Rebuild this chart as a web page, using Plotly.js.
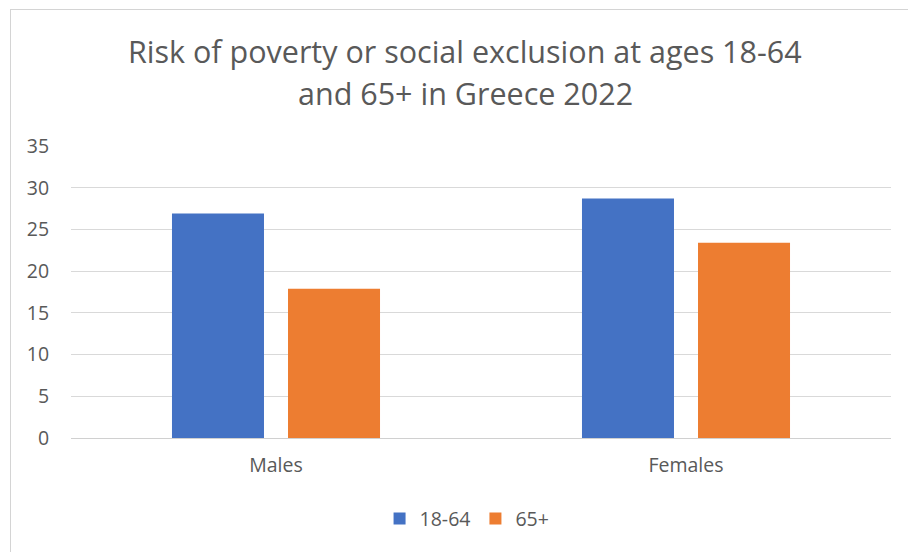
<!DOCTYPE html>
<html>
<head>
<meta charset="utf-8">
<script src="https://cdn.plot.ly/plotly-3.0.1.min.js"></script>
<style>
  html, body { margin: 0; padding: 0; background: #ffffff; }
  #wrap { position: relative; width: 908px; height: 552px; overflow: hidden; }
  #chart { position: absolute; left: 0; top: 0; width: 908px; height: 552px; }
  #frame { position: absolute; left: 10px; top: 9px; width: 920px; height: 560px;
           border-left: 1px solid #d4d4d4; border-top: 1px solid #d4d4d4; pointer-events: none; }
</style>
</head>
<body>
<div id="wrap">
  <div id="chart"></div>
  <div id="frame"></div>
</div>
<script>
const categories = ["Males", "Females"];
const seriesNames = ["18-64", "65+"];
const values1864 = [26.9, 28.7];
const values65 = [17.9, 23.4];
const titleLines = ["Risk of poverty or social exclusion at ages 18-64", "and 65+ in Greece 2022"];
const yTickVals = [0, 5, 10, 15, 20, 25, 30, 35];

const FONT = "Open Sans, Liberation Sans, Arial, sans-serif";
const TXT = "#595959";

const traces = [
  { type: "bar", name: seriesNames[0], x: categories, y: values1864,
    marker: { color: "#4472C4" }, hoverinfo: "x+y+name" },
  { type: "bar", name: seriesNames[1], x: categories, y: values65,
    marker: { color: "#ED7D31" }, hoverinfo: "x+y+name" }
];

const layout = {
  width: 908, height: 552,
  margin: { l: 71, r: 17, t: 146, b: 114 },
  paper_bgcolor: "rgba(0,0,0,0)",
  plot_bgcolor: "#ffffff",
  barmode: "group",
  bargap: 0.434,
  bargroupgap: 0.207,
  font: { family: FONT, color: TXT, size: 19 },
  showlegend: true,
  legend: {
    orientation: "h", x: 0.483, xanchor: "center", y: -0.277, yanchor: "middle",
    font: { family: FONT, color: TXT, size: 19.5 }, itemwidth: 30,
    traceorder: "normal"
  },
  xaxis: {
    type: "category",
    showgrid: false, zeroline: false, showline: false,
    ticks: "outside", ticklen: 10, tickcolor: "rgba(0,0,0,0)",
    tickfont: { family: FONT, color: TXT, size: 19.5 }
  },
  yaxis: {
    range: [0, 35], tickvals: yTickVals,
    showgrid: true, gridcolor: "#d9d9d9", gridwidth: 1,
    zeroline: true, zerolinecolor: "#d0d0d0", zerolinewidth: 1,
    showline: false,
    ticks: "outside", ticklen: 17, tickcolor: "rgba(0,0,0,0)",
    tickfont: { family: FONT, color: TXT, size: 19.5 }
  },
  annotations: [
    { text: titleLines[0], xref: "paper", yref: "paper", x: 0.4805, y: 1.325,
      xanchor: "center", yanchor: "middle", showarrow: false,
      font: { family: FONT, color: TXT, size: 30.5 } },
    { text: titleLines[1], xref: "paper", yref: "paper", x: 0.4805, y: 1.182,
      xanchor: "center", yanchor: "middle", showarrow: false,
      font: { family: FONT, color: TXT, size: 30.5 } }
  ]
};

Plotly.newPlot("chart", traces, layout, { displayModeBar: false, staticPlot: true });
</script>
</body>
</html>
